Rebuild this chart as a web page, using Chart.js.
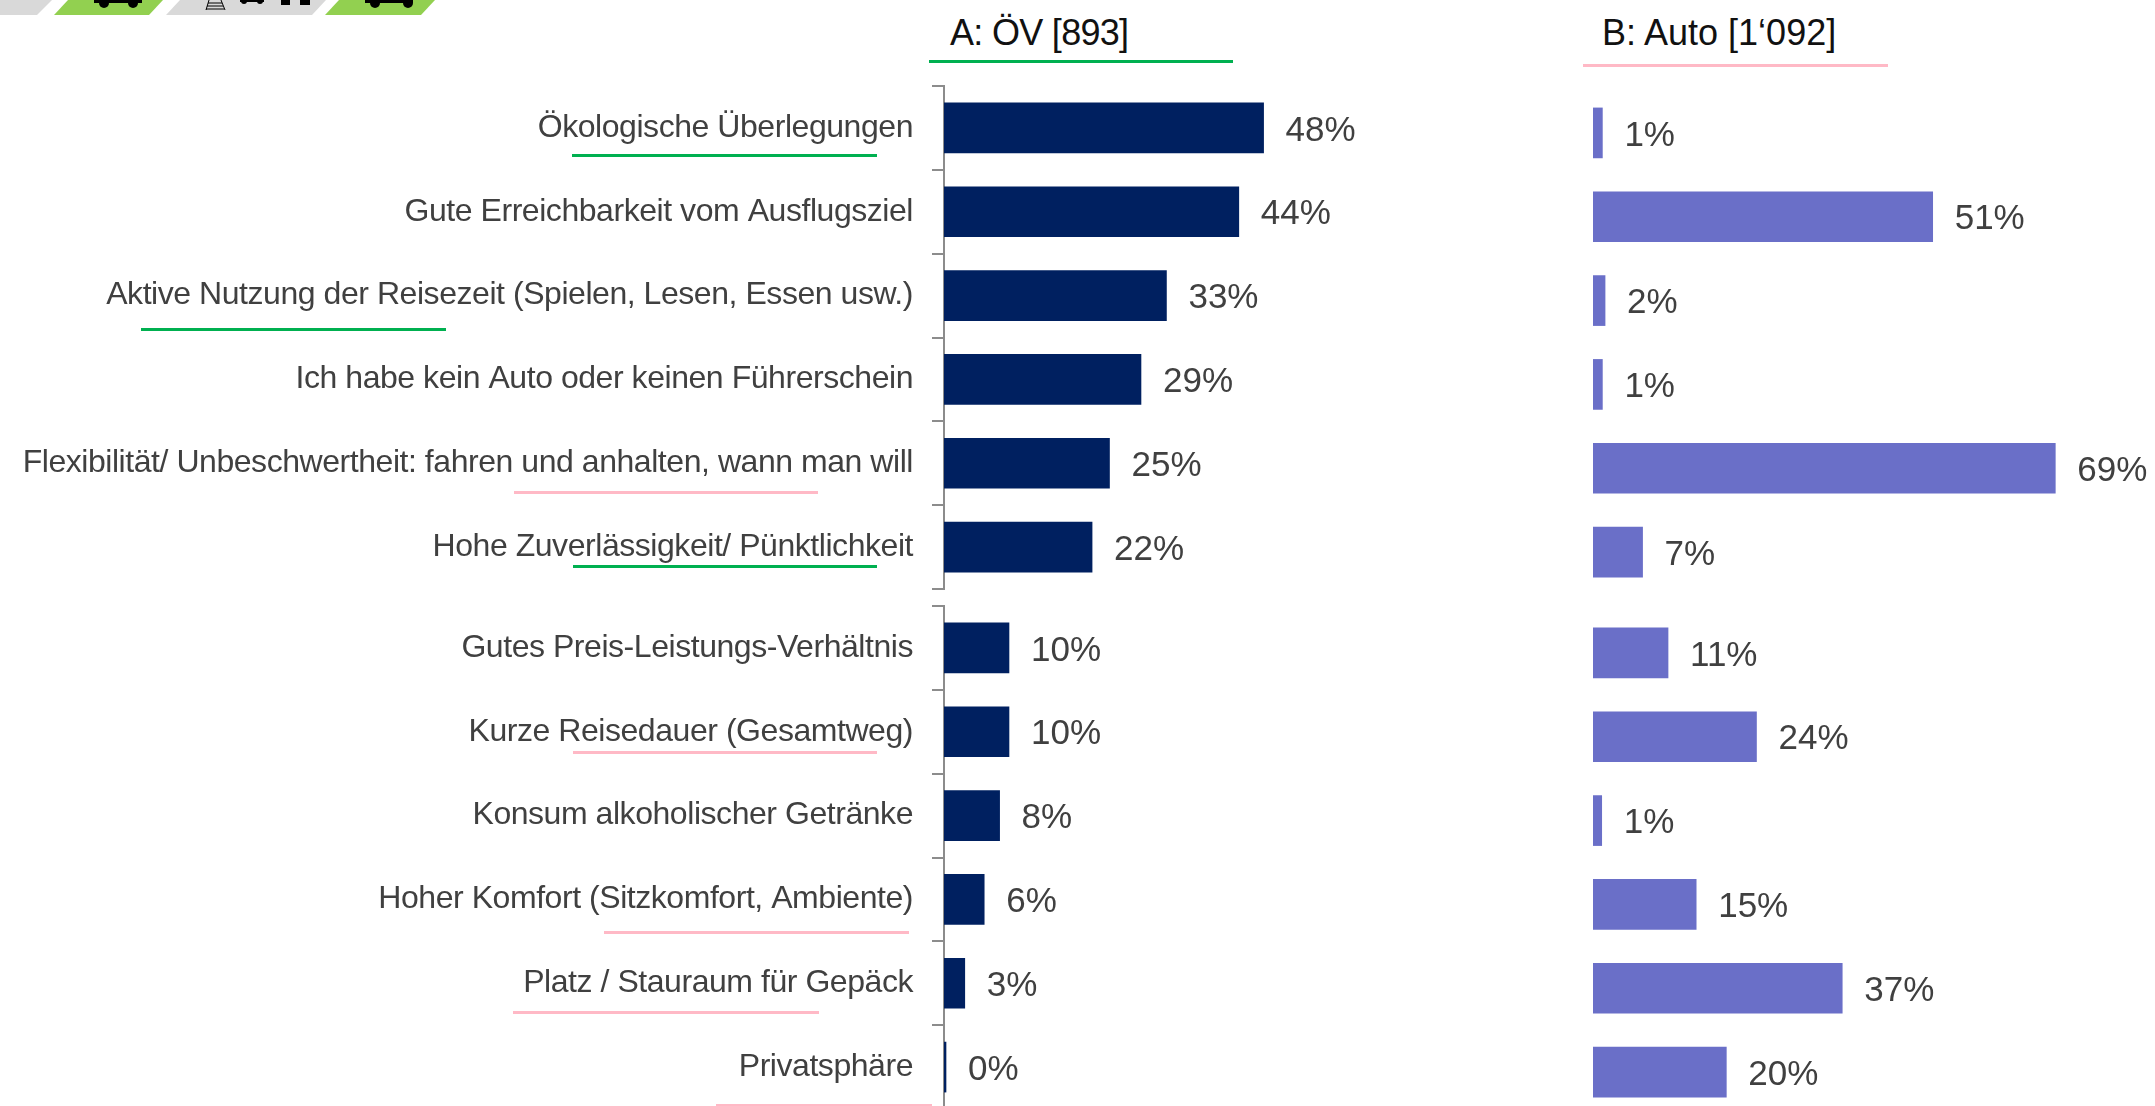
<!DOCTYPE html>
<html lang="de">
<head>
<meta charset="utf-8">
<title>A: ÖV / B: Auto</title>
<script src="https://cdn.jsdelivr.net/npm/chart.js@4"></script>
<style>
html,body{margin:0;padding:0;width:2155px;height:1106px;overflow:hidden;background:#fff}
canvas{position:absolute;display:block}
.head{position:absolute;font:36px "Liberation Sans",Arial,sans-serif;color:#111;white-space:nowrap;line-height:40px}
.rule{position:absolute;height:3px}
svg{position:absolute;left:0;top:0}
</style>
</head>
<body>
<svg width="450" height="16" viewBox="0 0 450 16">
  <polygon points="0,0 52,0 37,15 0,15" fill="#D9D9D9"/>
  <polygon points="68,0 163,0 149,15 54,15" fill="#92D050"/>
  <polygon points="180,0 326,0 312,15 166,15" fill="#D9D9D9"/>
  <polygon points="339,0 435,0 421,15 325,15" fill="#92D050"/>
  <g fill="#000">
    <rect x="94" y="0" width="48" height="3"/><circle cx="104" cy="3" r="5"/><circle cx="133" cy="3" r="5"/>
    <rect x="365" y="0" width="48" height="3"/><circle cx="375" cy="3" r="5"/><circle cx="408" cy="3" r="5"/>
    <rect x="240" y="0" width="24" height="2"/><circle cx="244" cy="1" r="3"/><circle cx="260" cy="1" r="3"/>
    <rect x="281" y="0" width="9" height="5"/><rect x="300" y="0" width="10" height="5"/>
  </g>
  <path d="M209 0 L206 10 M221 0 L225 10 M208 3 H222 M207 6 H223 M206 9 H224" stroke="#000" stroke-width="1" fill="none"/>
</svg>

<div class="head" style="left:950px;top:13px;letter-spacing:-0.7px">A: ÖV [893]</div>
<div class="rule" style="left:929px;top:60px;width:304px;background:#00B050"></div>
<div class="head" style="left:1602px;top:13px;letter-spacing:0">B: Auto [1‘092]</div>
<div class="rule" style="left:1583px;top:64px;width:305px;background:#FFB9C6"></div>

<canvas id="aTop" width="1480" height="507" style="left:0;top:84px"></canvas>
<canvas id="aBottom" width="1480" height="507" style="left:0;top:604px"></canvas>
<canvas id="bTop" width="655" height="507" style="left:1500px;top:89px"></canvas>
<canvas id="bBottom" width="655" height="507" style="left:1500px;top:609px"></canvas>

<div class="rule" style="left:572px;top:154px;width:305px;background:#00B050"></div>
<div class="rule" style="left:141px;top:328px;width:305px;background:#00B050"></div>
<div class="rule" style="left:514px;top:491px;width:304px;background:#FFB9C6"></div>
<div class="rule" style="left:573px;top:565px;width:304px;background:#00B050"></div>
<div class="rule" style="left:573px;top:751px;width:304px;background:#FFB9C6"></div>
<div class="rule" style="left:604px;top:931px;width:305px;background:#FFB9C6"></div>
<div class="rule" style="left:513px;top:1011px;width:306px;background:#FFB9C6"></div>
<div class="rule" style="left:716px;top:1104px;width:216px;background:#FFB9C6"></div>

<script>
const categoriesTop = [
  "Ökologische Überlegungen",
  "Gute Erreichbarkeit vom Ausflugsziel",
  "Aktive Nutzung der Reisezeit (Spielen, Lesen, Essen usw.)",
  "Ich habe kein Auto oder keinen Führerschein",
  "Flexibilität/ Unbeschwertheit: fahren und anhalten, wann man will",
  "Hohe Zuverlässigkeit/ Pünktlichkeit"
];
const categoriesBottom = [
  "Gutes Preis-Leistungs-Verhältnis",
  "Kurze Reisedauer (Gesamtweg)",
  "Konsum alkoholischer Getränke",
  "Hoher Komfort (Sitzkomfort, Ambiente)",
  "Platz / Stauraum für Gepäck",
  "Privatsphäre"
];
const valuesATop = [47.7, 44, 33.2, 29.4, 24.7, 22.1];
const valuesABottom = [9.7, 9.7, 8.3, 6, 3.1, 0.3];
const valuesBTop = [1.4, 50.7, 1.8, 1.4, 69, 7.4];
const valuesBBottom = [11.2, 24.4, 1.3, 15.4, 37.2, 19.9];

const colorA = "#002060";
const colorB = "#6A6FC8";
const axisGrey = "#8C8C8C";
const textGrey = "#404040";

const valueLabels = {
  id: "valueLabels",
  afterDatasetsDraw(chart) {
    const ctx = chart.ctx;
    const meta = chart.getDatasetMeta(0);
    ctx.save();
    ctx.font = '35px "Liberation Sans", Arial, sans-serif';
    ctx.letterSpacing = "0px";
    ctx.fillStyle = textGrey;
    ctx.textAlign = "left";
    ctx.textBaseline = "middle";
    meta.data.forEach((bar, i) => {
      const v = chart.data.datasets[0].data[i];
      ctx.fillText(Math.round(v) + "%", bar.x + 22, bar.y + 3);
    });
    ctx.restore();
  }
};
const tightText = {
  id: "tightText",
  beforeDraw(chart) { chart.ctx.letterSpacing = "-0.45px"; }
};

function makeChart(id, labels, values, color, withAxis) {
  return new Chart(document.getElementById(id), {
    type: "bar",
    plugins: [tightText, valueLabels],
    data: {
      labels,
      datasets: [{ data: values, backgroundColor: color, barThickness: 50, borderWidth: 0, minBarLength: 2 }]
    },
    options: {
      indexAxis: "y",
      responsive: false,
      animation: false,
      events: [],
      layout: { padding: { top: 2, bottom: 2, left: withAxis ? 0 : 93, right: withAxis ? 0 : 26 } },
      plugins: { legend: { display: false }, tooltip: { enabled: false }, title: { display: false } },
      scales: {
        x: { display: false, min: 0, max: 80 },
        y: {
          display: withAxis,
          afterFit(s) {
            s.width = withAxis ? 944 : 0;
            s.paddingTop = 0;
            s.paddingBottom = 0;
          },
          grid: { offset: true, drawOnChartArea: false, drawTicks: true, tickLength: 12, color: axisGrey, lineWidth: 2 },
          border: { display: true, color: axisGrey, width: 2 },
          ticks: { autoSkip: false, padding: 19, color: textGrey, font: { family: '"Liberation Sans", Arial, sans-serif', size: 32 } }
        }
      }
    }
  });
}
makeChart("aTop", categoriesTop, valuesATop, colorA, true);
makeChart("aBottom", categoriesBottom, valuesABottom, colorA, true);
makeChart("bTop", categoriesTop, valuesBTop, colorB, false);
makeChart("bBottom", categoriesBottom, valuesBBottom, colorB, false);
</script>
</body>
</html>
